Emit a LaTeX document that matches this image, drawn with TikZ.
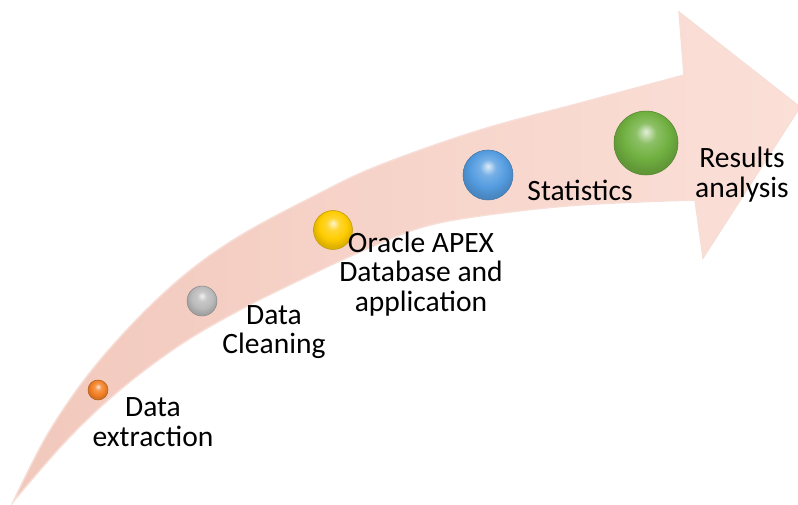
\documentclass[tikz,border=0pt]{standalone}
\usepackage{fontspec}
\setmainfont{Carlito}
\definecolor{salmondark}{RGB}{242,200,188}
\definecolor{salmonlight}{RGB}{251,224,216}
\definecolor{orangeball}{RGB}{242,128,36}
\definecolor{greyball}{RGB}{186,186,186}
\definecolor{yellowball}{RGB}{255,204,0}
\definecolor{blueball}{RGB}{84,156,224}
\definecolor{greenball}{RGB}{112,176,64}
% glossy sphere, bright top
\makeatletter
\pgfdeclareradialshading[tikz@ball]{glossy}{\pgfqpoint{0bp}{9bp}}{color(0bp)=(tikz@ball!20!white); color(8bp)=(tikz@ball!80!white); color(18bp)=(tikz@ball); color(25bp)=(tikz@ball!88!black); color(50bp)=(tikz@ball!70!black)}
\makeatother
\begin{document}
\begin{tikzpicture}[x=0.2mm,y=-0.2mm,
    stagetext/.style={align=center, font=\fontsize{16.8}{17}\selectfont},
    sphere/.style={circle, inner sep=0pt, draw=#1!75!black, line width=.3pt, ball color=#1, shading=glossy}]
    \useasboundingbox (0,0) rectangle (798,504);
    % bent arrow
    \path[left color=salmondark, right color=salmonlight, draw=white!40!salmondark, line width=.8pt]
        plot[smooth, tension=.6] coordinates {(13,502) (50,430) (100,360) (167,290) (233,240) (320,193) (380,165) (480,130) (580,103) (684,75)}
        -- (679,12) -- (800,107) -- (703,258) -- (695,200)
        -- plot[smooth, tension=.6] coordinates {(695,200) (580,205) (480,216) (420,228) (360,252) (300,280) (240,310) (180,345) (120,390) (67,440) (13,502)}
        -- cycle;
    % stages
    \node[sphere=orangeball, minimum size=4mm] (s1) at (98,390) {};
    \node[sphere=greyball, minimum size=6mm] (s2) at (202,301) {};
    \node[sphere=yellowball, minimum size=7.8mm] (s3) at (333,230) {};
    \node[sphere=blueball, minimum size=10mm] (s4) at (488,175) {};
    \node[sphere=greenball, minimum size=12.8mm] (s5) at (646,143) {};
    \node[stagetext] (t1) at (153,422) {Data\\extraction};
    \node[stagetext] (t2) at (274,332) {Data\\Cleaning};
    \node[stagetext] (t3) at (421,274) {Oracle APEX\\Database and\\application};
    \node[stagetext] (t4) at (580,190) {Statistics};
    \node[stagetext] (t5) at (742,175) {Results\\analysis};
\end{tikzpicture}
\end{document}
